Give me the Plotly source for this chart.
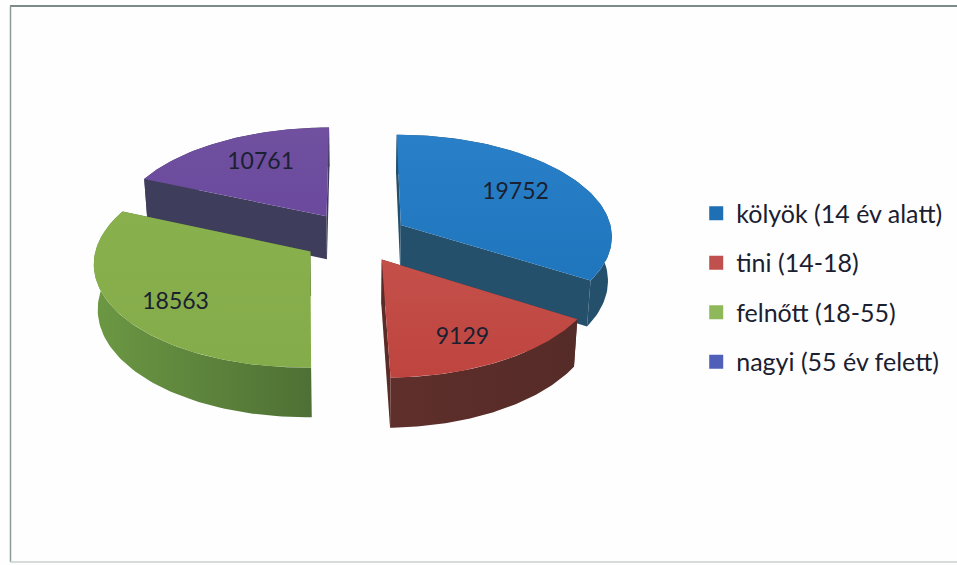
import numpy as np
import plotly.graph_objects as go

categories = ["kölyök (14 év alatt)", "tini (14-18)", "felnőtt (18-55)", "nagyi (55 év felett)"]
values = [19752, 9129, 18563, 10761]
top_colors = ["#1f76bd", "#bf443f", "#85ac4a", "#6b4a9e"]
top_colors2 = ["#2a80c8", "#c4504a", "#88b04c", "#70509f"]
arc_colors = ["#24506c", "#5f2f2b", "#6c9843", "#3f3d5c"]
arc_colors2 = ["#24506c", "#552b28", "#4e7035", "#3f3d5c"]
cut_colors = ["#24506c", "#5a2c28", "#4e7035", "#3f3d5c"]
legend_colors = ["#1f6fb5", "#c0504d", "#8fb85a", "#5060b8"]
draw_order = [3, 0, 2, 1]

CX, CY = 355, 237
A, B, P = 212, 101.5, 0.10
EXPLODE = 0.25
DEPTH = 44
INSET = 0.985
LABEL_R = 0.70
LABEL_SHIFT = [(-8, 1), (-1, 10), (-3, 9), (8, 1)]


def project(X, Y, drop=False):
    X, Y = np.asarray(X, float), np.asarray(Y, float)
    s = 1 / (1 + P * Y)
    k = INSET if drop else 1.0
    return CX + A * X * s * k, CY - B * Y * s + (DEPTH * s if drop else 0)


total = sum(values)
edges = np.concatenate([[0], np.cumsum(values)]) / total * 2 * np.pi

fig = go.Figure()


def poly(x, y, c1, c2=None, kind="horizontal"):
    x = list(x) + [x[0]]
    y = list(y) + [y[0]]
    kw = dict(fillcolor=c1)
    if c2:
        kw = dict(fillgradient=dict(type=kind, colorscale=[[0, c1], [1, c2]]))
    fig.add_trace(go.Scatter(x=x, y=y, mode="lines", fill="toself", line=dict(width=0, color=c1),
                             showlegend=False, hoverinfo="skip", **kw))


labels = []
for i in draw_order:
    t0, t1 = edges[i], edges[i + 1]
    mid = (t0 + t1) / 2
    ox, oy = EXPLODE * np.sin(mid), EXPLODE * np.cos(mid)
    t = np.linspace(t0, t1, 80)
    ax, ay = ox + np.sin(t), oy + np.cos(t)
    px, py = project(ax, ay)
    qx, qy = project(ax, ay, True)
    cx, cy = project(ox, oy)
    dx, dy = project(ox, oy, True)
    # cut faces
    for j in (0, -1):
        poly([cx, px[j], qx[j], dx], [cy, py[j], qy[j], dy], cut_colors[i])
    # outer rim
    poly(np.r_[px, qx[::-1]], np.r_[py, qy[::-1]], arc_colors[i], arc_colors2[i])
    # top
    poly(np.r_[cx, px], np.r_[cy, py], top_colors[i], top_colors2[i], "vertical")
    lx, ly = project(ox + LABEL_R * np.sin(mid), oy + LABEL_R * np.cos(mid))
    labels.append((float(lx) + LABEL_SHIFT[i][0], float(ly) + LABEL_SHIFT[i][1], str(values[i])))

fig.add_trace(go.Scatter(x=[l[0] for l in labels], y=[l[1] for l in labels], text=[l[2] for l in labels],
                         mode="text", textfont=dict(family="Lato, sans-serif", size=23, color="#1a2030"),
                         showlegend=False, hoverinfo="skip"))

for i, name in enumerate(categories):
    fig.add_trace(go.Scatter(x=[None], y=[None], mode="markers", name=name, legendgroup=name,
                             marker=dict(symbol="square", size=14, color=legend_colors[i])))

fig.update_layout(
    width=957, height=565, margin=dict(l=0, r=0, t=0, b=0),
    paper_bgcolor="#fefefe", plot_bgcolor="#fefefe",
    xaxis=dict(range=[0, 957], visible=False, fixedrange=True),
    yaxis=dict(range=[565, 0], visible=False, fixedrange=True),
    legend=dict(x=0.7275, y=0.663, xanchor="left", yanchor="top", tracegroupgap=14,
                bgcolor="rgba(0,0,0,0)", font=dict(family="Lato, sans-serif", size=25, color="#1a2030")),
    shapes=[
        dict(type="line", x0=10, x1=957, y0=6, y1=6, line=dict(color="#7d8a8a", width=2)),
        dict(type="line", x0=10.5, x1=10.5, y0=6, y1=562, line=dict(color="#8c9a9a", width=1.5)),
        dict(type="line", x0=10, x1=957, y0=562, y1=562, line=dict(color="#c9d0d0", width=1.5)),
    ],
)
fig.write_html("out.html", config={"displayModeBar": False},
               post_script="document.body.style.margin='0';document.documentElement.style.overflow='hidden';")
